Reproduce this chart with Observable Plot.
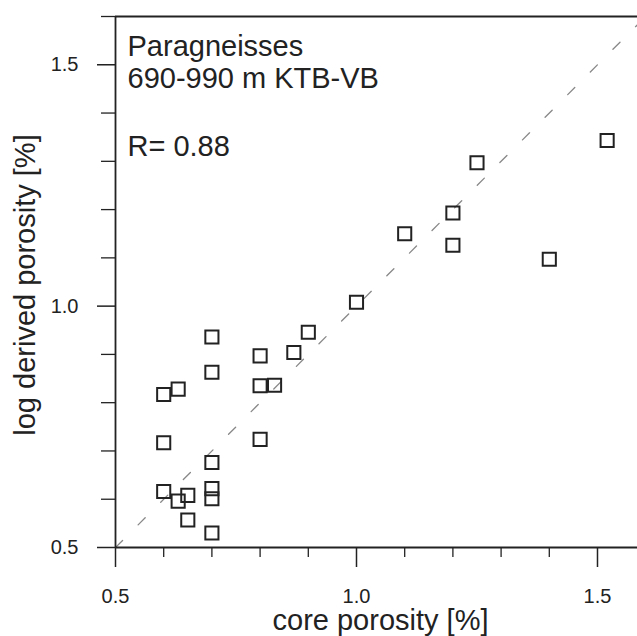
<!DOCTYPE html>
<html>
<head>
<meta charset="utf-8">
<script src="https://cdn.jsdelivr.net/npm/d3@7"></script>
<script src="https://cdn.jsdelivr.net/npm/@observablehq/plot@0.6"></script>
<style>
  html, body { margin: 0; padding: 0; background: #fff; }
  #chart svg { display: block; }
</style>
</head>
<body>
<div id="chart"></div>
<script>
// Data
const corePorosity = [0.6, 0.63, 0.7, 0.7, 0.6, 0.6, 0.63, 0.65, 0.65, 0.7, 0.7, 0.7, 0.7,
                      0.8, 0.8, 0.83, 0.8, 0.87, 0.9, 1.0, 1.1, 1.2, 1.2, 1.25, 1.4, 1.52];
const logPorosity  = [0.817, 0.828, 0.936, 0.863, 0.717, 0.616, 0.596, 0.608, 0.557, 0.676, 0.622, 0.601, 0.530,
                      0.897, 0.835, 0.836, 0.724, 0.904, 0.946, 1.008, 1.150, 1.193, 1.126, 1.297, 1.097, 1.343];
const majorTicks = [0.5, 1.0, 1.5];
const minorTicksX = [0.6, 0.7, 0.8, 0.9, 1.1, 1.2, 1.3, 1.4];
const minorTicksY = [0.6, 0.7, 0.8, 0.9, 1.1, 1.2, 1.3, 1.4, 1.6];
const titleLines = "Paragneisses\n690-990 m KTB-VB";
const rText = "R= 0.88";
const xLabel = "core porosity [%]";
const yLabel = "log derived porosity [%]";
const oneToOne = [[0.5, 0.5], [1.6, 1.6]];

const points = corePorosity.map((c, i) => ({core: c, log: logPorosity[i]}));
const ink = "#222";

const chart = Plot.plot({
  width: 637,
  height: 636,
  marginLeft: 115,
  marginRight: 0,
  marginTop: 16,
  marginBottom: 89,
  style: {fontFamily: "'Liberation Sans', Arial, Helvetica, sans-serif", fontSize: "20px", background: "#fff", color: ink, overflow: "visible"},
  x: {domain: [0.5, 1.583]},
  y: {domain: [0.5, 1.6]},
  marks: [
    // 1:1 dashed line
    Plot.line(oneToOne, {x: d => d[0], y: d => d[1], stroke: "#888", strokeWidth: 1.3, strokeDasharray: "10,22", clip: true}),
    // frame lines
    Plot.ruleY([0.5], {stroke: ink, strokeWidth: 1.8}),
    Plot.ruleY([1.6], {stroke: ink, strokeWidth: 1.8}),
    Plot.ruleX([0.5], {stroke: ink, strokeWidth: 1.8}),
    // axes
    Plot.axisX({ticks: majorTicks, tickSize: 20, tickPadding: 21, tickFormat: d => d.toFixed(1), label: null, stroke: ink, strokeWidth: 1.5}),
    Plot.axisX({ticks: minorTicksX, tickSize: 10, tickFormat: () => "", label: null, stroke: ink, strokeWidth: 1.3}),
    Plot.axisY({ticks: majorTicks, tickSize: 18, tickPadding: 19, tickFormat: d => d.toFixed(1), label: null, stroke: ink, strokeWidth: 1.5}),
    Plot.axisY({ticks: minorTicksY, tickSize: 14, tickFormat: () => "", label: null, stroke: ink, strokeWidth: 1.3}),
    // axis labels
    Plot.text([xLabel], {frameAnchor: "bottom", dx: 4, dy: 73, fontSize: 29, textAnchor: "middle", lineAnchor: "middle", fill: ink}),
    Plot.text([yLabel], {frameAnchor: "left", dx: -90, dy: 3, rotate: -90, fontSize: 29, textAnchor: "middle", lineAnchor: "middle", fill: ink}),
    // annotations
    Plot.text([titleLines], {frameAnchor: "top-left", dx: 12, dy: 17, fontSize: 29, textAnchor: "start", lineAnchor: "top", lineHeight: 1.1, fill: ink}),
    Plot.text([rText], {frameAnchor: "top-left", dx: 12, dy: 119, fontSize: 29, textAnchor: "start", lineAnchor: "top", fill: ink}),
    // data squares
    Plot.dot(points, {x: "core", y: "log", symbol: "square", r: 7.4, stroke: ink, strokeWidth: 2, fill: "none"})
  ]
});
document.getElementById("chart").appendChild(chart);
</script>
</body>
</html>
